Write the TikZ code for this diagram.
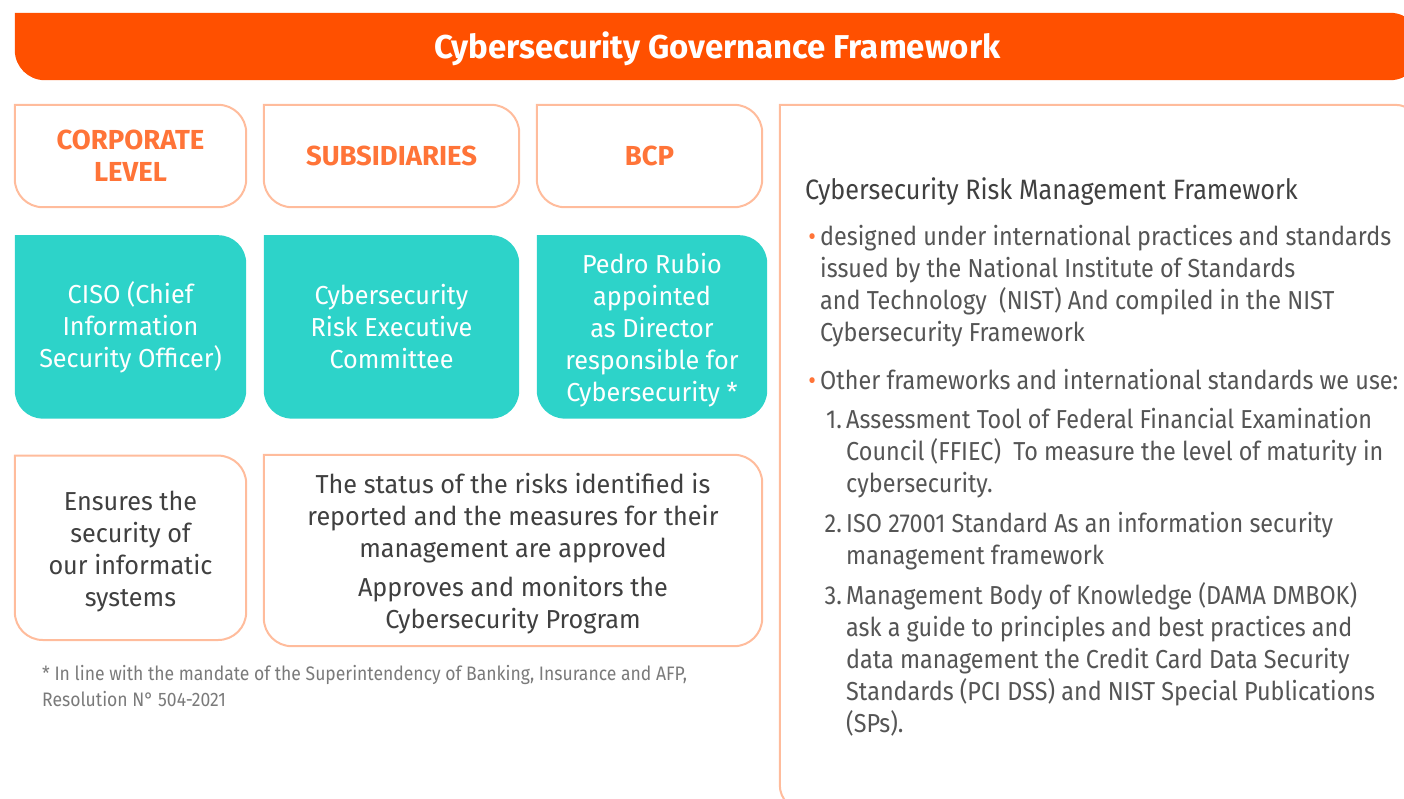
\documentclass[tikz,border=0pt]{standalone}
\usepackage{fontspec}
\setmainfont{Fira Sans}
\newfontfamily\lightfont{Fira Sans}[FakeStretch=0.9]
\newfontfamily\midfont{Fira Sans}[FakeStretch=0.97]
\usetikzlibrary{positioning,backgrounds}
\definecolor{brand}{HTML}{FF5000}
\definecolor{accent}{HTML}{FF7438}
\definecolor{edge}{HTML}{FFBC9C}
\definecolor{aqua}{HTML}{2DD3C9}
\definecolor{ink}{HTML}{404040}
\definecolor{soft}{HTML}{555555}
\definecolor{note}{HTML}{7A7A7A}
\tikzset{
  head_bar/.style={minimum width=1405pt,minimum height=67pt,inner sep=0pt,
    text height=31pt,text depth=7.5pt,
    font=\bfseries\fontsize{33}{38}\selectfont,text=white},
  lvl_box/.style={minimum width=231pt,minimum height=102pt,inner sep=0pt,align=center,
    font=\bfseries\fontsize{27.5}{32}\selectfont,text=accent},
  role_box/.style={minimum height=183pt,inner sep=0pt,align=center,
    font=\midfont\fontsize{26}{32}\selectfont,text=white},
  duty_box/.style={minimum height=184pt,inner sep=0pt,align=center,
    font=\midfont\fontsize{26}{32}\selectfont,text=ink},
  title_txt/.style={anchor=north west,inner sep=0pt,
    font=\lightfont\fontsize{28}{32}\selectfont,text=ink},
  panel_txt/.style={anchor=north west,inner sep=0pt,align=left,
    font=\lightfont\fontsize{26}{32}\selectfont,text=soft},
  note_txt/.style={anchor=north west,inner sep=0pt,align=left,
    font=\lightfont\fontsize{19.5}{26}\selectfont,text=note},
  line_edge/.style={draw=edge,line width=2pt,fill=white},
}
\newcommand{\leafbox}[3][28pt]{%
  \path[#3] (#2.north west) -- ([xshift=-#1]#2.north east)
    arc[start angle=90,end angle=0,radius=#1] -- ([yshift=#1]#2.south east)
    arc[start angle=0,end angle=-90,radius=#1] -- ([xshift=#1]#2.south west)
    arc[start angle=270,end angle=180,radius=#1] -- cycle;}
\newcommand{\dotmark}{\llap{\textcolor{accent}{\textbullet}\,}}
\newcommand{\topgap}{\rule{0pt}{26pt}}
\begin{document}
\begin{tikzpicture}[x=1pt,y=1pt,node distance=28pt]
  \useasboundingbox (0,0) rectangle (1404,-798);
  \clip (0,0) rectangle (1404,-798);
  \node[head_bar] (head) at (717.5,-46.5) {Cybersecurity Governance Framework};
  \node[lvl_box] (corp) at (130.5,-156) {CORPORATE\\LEVEL};
  \node[lvl_box,minimum width=255pt] (subs) at (391.5,-156) {SUBSIDIARIES};
  \node[lvl_box,minimum width=225pt] (bcp) at (649.5,-156) {BCP};
  \node[role_box,minimum width=231pt,below=of corp] (ciso) {CISO (Chief\\Information\\Security Officer)};
  \node[role_box,minimum width=255pt,below=of subs] (comm) {Cybersecurity\\Risk Executive\\Committee};
  \node[role_box,minimum width=230pt,below=of bcp,xshift=2.5pt] (dir) {\topgap Pedro Rubio\\appointed\\as Director\\responsible for\\Cybersecurity *};
  \node[duty_box,minimum width=231pt,below=37pt of ciso] (ens) {\topgap Ensures the\\security of\\our informatic\\systems};
  \node[duty_box,minimum width=498pt,minimum height=191pt] (stat) at (513,-550.5) {\topgap The status of the risks identified is\\reported and the measures for their\\management are approved\\[7pt]Approves and monitors the\\Cybersecurity Program};
  \node[note_txt] (fn) at (42,-664.7) {* In line with the mandate of the Superintendency of Banking, Insurance and AFP,\\Resolution N° 504-2021};
  \node[minimum width=640pt,minimum height=705pt,inner sep=0pt] (rmf) at (1100,-457.5) {};
  \node[title_txt] (rmft) at (805,-177.2) {Cybersecurity Risk Management Framework};
  \node[panel_txt] (b1) at (820,-224.6) {\dotmark designed under international practices and standards\\issued by the National Institute of Standards\\and Technology~~(NIST) And compiled in the NIST\\Cybersecurity Framework};
  \node[panel_txt] (b2) at (820,-368.6) {\dotmark Other frameworks and international standards we use:};
  \node[panel_txt] (i1) at (846,-407.6) {\llap{1.\,}Assessment Tool of Federal Financial Examination\\Council (FFIEC)~~To measure the level of maturity in\\cybersecurity.};
  \node[panel_txt] (i2) at (846,-511.6) {\llap{2.\,}ISO 27001 Standard As an information security\\management framework};
  \node[panel_txt] (i3) at (846,-582.6) {\llap{3.\,}Management Body of Knowledge (DAMA DMBOK)\\ask a guide to principles and best practices and\\data management the Credit Card Data Security\\Standards (PCI DSS) and NIST Special Publications\\(SPs).};
  \begin{scope}[on background layer]
    \leafbox[30pt]{head}{fill=brand}
    \leafbox[25pt]{rmf}{line_edge}
    \foreach \n in {corp,subs,bcp,ens,stat} {\leafbox{\n}{line_edge}}
    \foreach \n in {ciso,comm,dir} {\leafbox{\n}{fill=aqua}}
  \end{scope}
\end{tikzpicture}
\end{document}
